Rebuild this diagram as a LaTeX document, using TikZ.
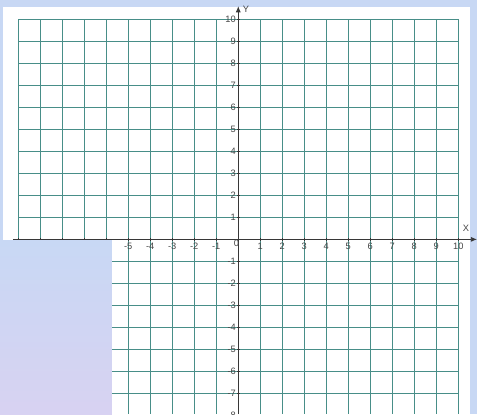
\documentclass[tikz,border=0pt]{standalone}
\usepackage{fontspec}
\setmainfont{Liberation Sans}
\usetikzlibrary{calc,arrows.meta}
\definecolor{gridteal}{RGB}{72,142,136}
\definecolor{paperblue}{RGB}{200,216,244}
\definecolor{paperpink}{RGB}{226,206,240}
\definecolor{axisgray}{RGB}{55,55,55}
\definecolor{numgray}{RGB}{70,70,70}

\begin{document}
\begin{tikzpicture}[
    gridline/.style={color=gridteal, line width=1.6pt},
    axisline/.style={color=axisgray, line width=1.1pt},
    numlabel/.style={font=\fontsize{12}{14}\selectfont, text=numgray, inner sep=0.5pt}]
        \useasboundingbox (-10.83,-7.94) rectangle (10.85,10.88);
        \fill[paperblue] (-10.83,-7.94) rectangle (10.85,10.88);
        \fill[white] (-10.7,-7.94) rectangle (10.53,10.56);
        % grid
        \foreach \x in {-10,...,10}
        \draw[gridline] (\x,10) -- (\x,-7.94);
        \foreach \y in {-8,...,10}
        \draw[gridline] (-10,\y) -- (10,\y);
        % axes
        \coordinate (xstart) at (-10.25,0);
        \coordinate (xend) at (10.85,0);
        \coordinate (ystart) at (0,-7.94);
        \coordinate (yend) at (0,10.6);
        \draw[axisline,-{Latex[length=2.8mm,width=2.3mm]}] (xstart) -- (xend);
        \draw[axisline,-{Latex[length=2.8mm,width=2.3mm]}] (ystart) -- (yend);
        \node[numlabel] (xname) at (10.35,0.5) {X};
        \node[numlabel] (yname) at (0.35,10.45) {Y};
        % ticks and numbers
        \foreach \x in {-10,...,-1,1,2,...,10}
        \draw[shift={(\x,0)},color=axisgray] (0pt,2pt) -- (0pt,-2pt) node[numlabel,below=1.5pt] (xl\x) {\x};
        \foreach \y in {-8,...,-1,1,2,...,10}
        \draw[shift={(0,\y)},color=axisgray] (2pt,0pt) -- (-2pt,0pt) node[numlabel,left=0.5pt] (yl\y) {\y};
        \node[numlabel] (origin) at (-0.08,-0.17) {0};
        % paper patch over the lower left corner
        \shade[top color=paperblue, bottom color=paperpink!60!paperblue]
            (-10.83,-7.94) rectangle (-5.74,-0.06);
    \end{tikzpicture}
\end{document}
